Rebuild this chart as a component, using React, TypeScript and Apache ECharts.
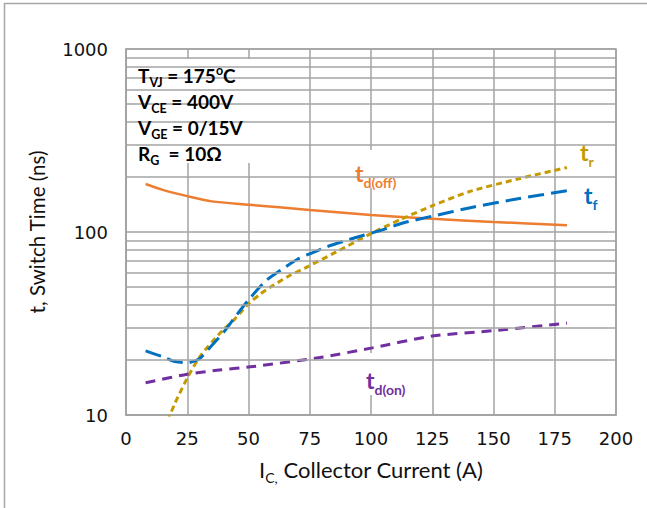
import React, { useEffect, useRef } from "react";
import * as echarts from "echarts";

// Collector current (A) and switching times (ns)
const tdOffCurrent = [8, 15, 25, 35, 50, 75, 100, 125, 150, 180];
const tdOffTime = [183, 170, 157, 147, 141, 132, 124, 118, 113.5, 109];

const trCurrent = [17, 20, 25, 30, 35, 40, 44, 50, 55, 60, 67, 74, 86, 100, 112, 125, 140, 160, 180];
const trTime = [9.3, 11.6, 15.9, 20.7, 25, 29.5, 33, 40.5, 46, 51, 58, 64.5, 78, 98, 117, 139, 166, 195, 225];

const tfCurrent = [8, 15, 20, 25, 30, 35, 40, 45, 50, 57, 64, 70, 76, 82, 90, 97, 104, 113, 125, 142, 160, 180];
const tfTime = [22.4, 20.8, 19.6, 19.3, 20.3, 24, 28.5, 35, 42.5, 54, 63, 71, 77, 83, 90, 96, 102, 112, 122, 137, 152, 168];

const tdOnCurrent = [8, 25, 38, 52, 79, 100, 125, 150, 180];
const tdOnTime = [15, 16.7, 17.6, 18.4, 20.6, 23.2, 27, 28.9, 31.8];

const xTicks = [0, 25, 50, 75, 100, 125, 150, 175, 200];
const minorGridValues = [20, 30, 40, 50, 60, 70, 80, 90, 200, 300, 400, 500, 600, 700, 800, 900];

const conditions = [
  "{m|T}{s|VJ}{m| = 175}{o|o}{m|C}",
  "{m|V}{s|CE}{m| = 400V}",
  "{m|V}{s|GE}{m| = 0/15V}",
  "{m|R}{s|G}{m|  = 10Ω}",
];

const GRID = "#a3a3a3";
const LABEL_FONT = "Lato, 'Noto Sans', sans-serif";
const NUM_FONT = "'DejaVu Sans', 'Liberation Sans', sans-serif";

const pairs = (xs: number[], ys: number[]) => xs.map((x, i) => [x, ys[i]]);

function curveLabel(
  x: number,
  y: number,
  main: string,
  sub: string,
  color: string
) {
  return {
    type: "text",
    x,
    y,
    z: 6,
    silent: true,
    style: {
      text: `{m|${main}}{s|${sub}}`,
      fill: color,
      verticalAlign: "middle",
      align: "left",
      rich: {
        m: { fontSize: 23, fontWeight: "bold", fontFamily: LABEL_FONT, fill: color, lineHeight: 32 },
        s: { fontSize: 14, fontWeight: "bold", fontFamily: LABEL_FONT, fill: color, verticalAlign: "bottom" },
      },
    },
  };
}

function whiteBox(x: number, y: number, w: number, h: number) {
  return {
    type: "rect",
    z: 5,
    silent: true,
    shape: { x, y, width: w, height: h },
    style: { fill: "#ffffff" },
  };
}

export default function App() {
  const ref = useRef<HTMLDivElement>(null);

  useEffect(() => {
    if (!ref.current) return;
    const chart = echarts.init(ref.current, undefined, { renderer: "svg" });

    const lineBase = {
      type: "line",
      showSymbol: false,
      symbol: "none",
      smooth: 0.25,
      z: 3,
      silent: true,
    };

    const option: any = {
      animation: false,
      backgroundColor: "#ffffff",
      grid: {
        left: 126,
        top: 49,
        right: 31,
        bottom: 93,
        show: true,
        borderColor: GRID,
        borderWidth: 1.5,
      },
      xAxis: {
        type: "value",
        min: xTicks[0],
        max: xTicks[xTicks.length - 1],
        interval: 25,
        axisLine: { show: true, lineStyle: { color: GRID, width: 1.5 } },
        axisTick: { show: false },
        splitLine: { show: true, lineStyle: { color: GRID, width: 1.5 } },
        axisLabel: {
          margin: 14,
          fontSize: 18,
          color: "#111",
          fontFamily: NUM_FONT,
        },
      },
      yAxis: {
        type: "log",
        logBase: 10,
        min: 10,
        max: 1000,
        axisLine: { show: true, lineStyle: { color: GRID, width: 1.5 } },
        axisTick: { show: false },
        splitLine: { show: true, lineStyle: { color: GRID, width: 1.5 } },
        minorTick: { show: false },
        minorSplitLine: { show: false },
        axisLabel: {
          margin: 18,
          fontSize: 18,
          color: "#111",
          fontFamily: NUM_FONT,
          formatter: (v: number) => String(Math.round(v)),
        },
      },
      series: [
        {
          // minor log grid lines (2..9 of each decade)
          type: "line",
          data: [],
          z: 1,
          silent: true,
          markLine: {
            silent: true,
            symbol: ["none", "none"],
            label: { show: false },
            lineStyle: { color: GRID, type: "solid", width: 1.5 },
            emphasis: { disabled: true },
            data: minorGridValues.map((v) => ({ yAxis: v })),
          },
        },
        {
          ...lineBase,
          name: "td(off)",
          data: pairs(tdOffCurrent, tdOffTime),
          lineStyle: { color: "#ED7D31", width: 2.5, type: "solid" },
        },
        {
          ...lineBase,
          name: "tr",
          data: pairs(trCurrent, trTime),
          lineStyle: { color: "#C49A00", width: 3, type: [6, 4] },
        },
        {
          ...lineBase,
          name: "tf",
          data: pairs(tfCurrent, tfTime),
          lineStyle: { color: "#0070C0", width: 3, type: [16, 7] },
        },
        {
          ...lineBase,
          name: "td(on)",
          data: pairs(tdOnCurrent, tdOnTime),
          lineStyle: { color: "#7030A0", width: 3, type: [10, 7] },
        },
      ],
      graphic: [
        {
          type: "rect",
          z: 0,
          silent: true,
          shape: { x: 4.5, y: 3.5, width: 700, height: 600 },
          style: { fill: "none", stroke: "#a6a6a6", lineWidth: 1.5 },
        },
        whiteBox(133, 59, 123, 104),
        ...conditions.map((text, i) => ({
          type: "text",
          x: 138,
          y: 75 + i * 26,
          z: 6,
          silent: true,
          style: {
            text,
            fill: "#000",
            verticalAlign: "middle",
            align: "left",
            rich: {
              m: { fontSize: 19, fontWeight: "bold", fontFamily: LABEL_FONT, fill: "#000", lineHeight: 28 },
              s: { fontSize: 12.5, fontWeight: "bold", fontFamily: LABEL_FONT, fill: "#000", verticalAlign: "bottom" },
              o: { fontSize: 12.5, fontWeight: "bold", fontFamily: LABEL_FONT, fill: "#000", verticalAlign: "top", padding: [3, 0, 0, 0] },
            },
          },
        })),
        whiteBox(347, 150, 58, 38),
        curveLabel(355, 173, "t", "d(off)", "#ED7D31"),
        whiteBox(572, 137, 30, 22),
        curveLabel(580, 152, "t", "r", "#C49A00"),
        curveLabel(584, 195, "t", "f", "#0070C0"),
        whiteBox(363, 353, 47, 42),
        curveLabel(366, 380, "t", "d(on)", "#7030A0"),
        {
          type: "text",
          x: 37,
          y: 232,
          rotation: Math.PI / 2,
          silent: true,
          style: {
            text: "t, Switch Time (ns)",
            fontSize: 20.5,
            fontFamily: LABEL_FONT,
            fill: "#111",
            align: "center",
            verticalAlign: "middle",
          },
        },
        {
          type: "text",
          x: 371,
          y: 469,
          silent: true,
          style: {
            text: "{m|I}{s|C,}{m| Collector Current (A)}",
            fill: "#111",
            align: "center",
            verticalAlign: "middle",
            rich: {
              m: { fontSize: 22, fontFamily: LABEL_FONT, fill: "#111", lineHeight: 30 },
              s: { fontSize: 14, fontFamily: LABEL_FONT, fill: "#111", verticalAlign: "bottom" },
            },
          },
        },
      ],
    };

    chart.setOption(option);
    return () => chart.dispose();
  }, []);

  return (
    <div
      ref={ref}
      style={{ position: "fixed", left: 0, top: 0, width: 647, height: 508, background: "#fff" }}
    />
  );
}
